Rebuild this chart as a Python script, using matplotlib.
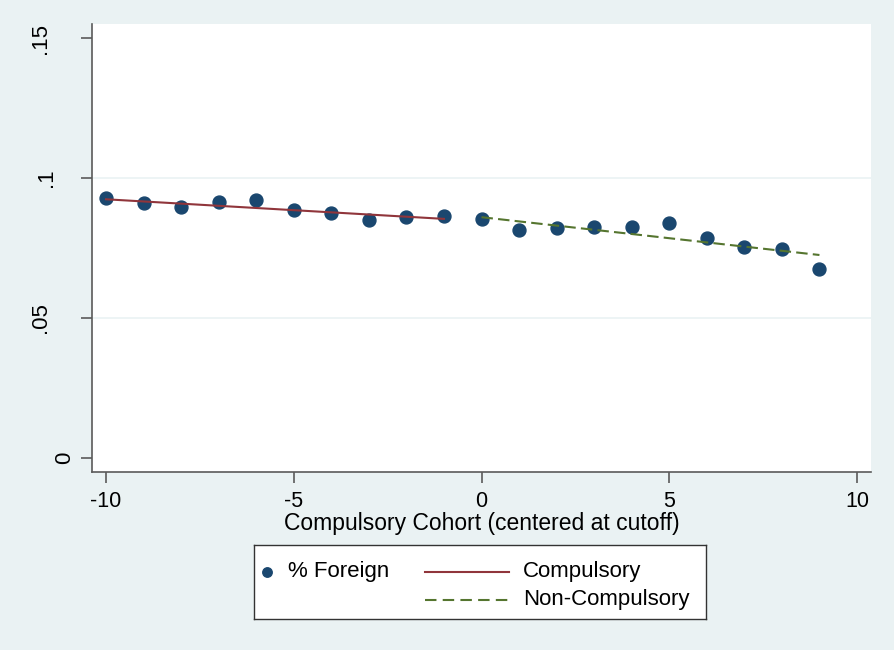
import matplotlib

matplotlib.use("Agg")

import matplotlib.pyplot as plt
from matplotlib.transforms import blended_transform_factory

cohort = list(range(-10, 10))
share_foreign = [
    0.0928, 0.0912, 0.0898, 0.0913, 0.0921, 0.0885, 0.0875, 0.0849, 0.0861, 0.0863,
    0.0855, 0.0815, 0.0822, 0.0826, 0.0826, 0.0838, 0.0785, 0.0753, 0.0746, 0.0674,
]
fit_comp_x = [-10, -1]
fit_comp_y = [0.0924, 0.0854]
fit_noncomp_x = [0, 9]
fit_noncomp_y = [0.0860, 0.0725]

x_ticks = [-10, -5, 0, 5, 10]
y_ticks = [0, 0.05, 0.1, 0.15]
y_tick_labels = ["0", ".05", ".1", ".15"]
legend_labels = ["% Foreign", "Compulsory", "Non-Compulsory"]

BG = "#EAF2F3"
NAVY = "#1A476F"
RED = "#90353B"
GREEN = "#55752F"
AXIS = "#5A5A5A"
W, H = 894, 650

plt.rcParams["font.family"] = ["Liberation Sans", "DejaVu Sans"]
plt.rcParams["axes.unicode_minus"] = False

fig = plt.figure(figsize=(W / 100, H / 100), dpi=100, facecolor=BG)
ax = fig.add_axes([92 / W, 1 - 472 / H, (871 - 92) / W, (472 - 24) / H])
ax.set_facecolor("white")

for y in [0.05, 0.1]:
    ax.axhline(y, color=BG, linewidth=1.2, zorder=0)

ax.plot(cohort, share_foreign, "o", color=NAVY, markersize=9.3, zorder=3)
ax.plot(fit_comp_x, fit_comp_y, color=RED, linewidth=1.5, zorder=4)
ax.plot(fit_noncomp_x, fit_noncomp_y, color=GREEN, linewidth=1.5,
        linestyle=(0, (5.5, 2.5)), zorder=4)

ax.set_xlim(-10.373, 10.373)
ax.set_ylim(-0.005, 0.155)
ax.set_xticks(x_ticks)
ax.set_yticks(y_ticks)
ax.set_yticklabels([])

for side in ["top", "right"]:
    ax.spines[side].set_visible(False)
for side in ["left", "bottom"]:
    ax.spines[side].set_color(AXIS)
    ax.spines[side].set_linewidth(1.2)
ax.tick_params(direction="out", length=8, width=1.2, color=AXIS)
ax.tick_params(axis="x", labelsize=15.5, pad=5.5)
ax.set_xlabel("Compulsory Cohort (centered at cutoff)", fontsize=16.5, labelpad=0)

# Stata-style rotated y labels, each sitting at its own distance from the axis
label_x_px = [65, 41, 47, 41]
ytrans = blended_transform_factory(fig.transFigure, ax.transData)
for yv, lab, px in zip(y_ticks, y_tick_labels, label_x_px):
    ax.text(px / W, yv, lab, transform=ytrans, rotation=90, fontsize=16,
            ha="center", va="center", clip_on=False)

# legend box, drawn in its own pixel-unit axes
lg = fig.add_axes([254 / W, 1 - 619 / H, 452 / W, 74 / H])
lg.set_xlim(0, 452)
lg.set_ylim(74, 0)
lg.set_xticks([])
lg.set_yticks([])
lg.set_facecolor("white")
for s in lg.spines.values():
    s.set_color("#333333")
    s.set_linewidth(1.0)
lg.plot([12.7], [26.5], "o", color=NAVY, markersize=6.8)
lg.text(34, 26.5, legend_labels[0], fontsize=16, va="center")
lg.plot([171, 255], [26.5, 26.5], color=RED, linewidth=1.5)
lg.text(269, 26.5, legend_labels[1], fontsize=16, va="center")
lg.plot([171, 255], [55, 55], color=GREEN, linewidth=1.5, linestyle=(0, (5.5, 3)))
lg.text(269, 55, legend_labels[2], fontsize=16, va="center")

fig.savefig("out.png", dpi=100, facecolor=BG)
